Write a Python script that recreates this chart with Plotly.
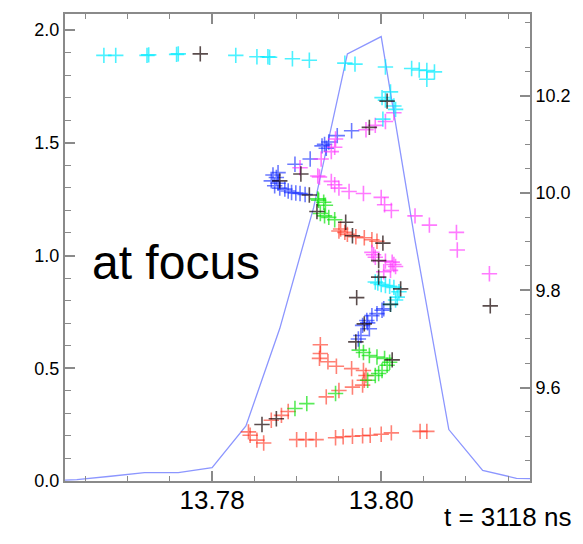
import plotly.graph_objects as go

# Pulse profile (left axis, intensity)
profile_t = [13.760, 13.764, 13.768, 13.772, 13.776, 13.780, 13.784, 13.788,
             13.792, 13.796, 13.800, 13.804, 13.808, 13.812, 13.816, 13.820]
profile_i = [0.000, 0.006, 0.021, 0.037, 0.037, 0.059, 0.244, 0.676,
             1.211, 1.894, 1.971, 1.066, 0.228, 0.047, 0.012, 0.008]

# Scatter points (right axis), grouped by colour
cyan_x = [13.7672, 13.7686, 13.7723, 13.7725, 13.7758, 13.7760, 13.7828, 13.7853,
          13.7866, 13.7868, 13.7895, 13.7915, 13.7957, 13.7969, 13.8005, 13.8036,
          13.8045, 13.8054, 13.8063, 13.8054, 13.8011, 13.8001, 13.8005, 13.8015,
          13.8017, 13.8002,
          13.7993, 13.7996, 13.8000, 13.8005, 13.8010, 13.8015, 13.8021, 13.8019,
          13.8017, 13.8011]
cyan_y = [10.283, 10.283, 10.283, 10.284, 10.285, 10.286, 10.283, 10.280,
          10.280, 10.279, 10.276, 10.273, 10.267, 10.265, 10.259, 10.256,
          10.253, 10.252, 10.249, 10.234, 10.208, 10.196, 10.191, 10.179,
          10.172, 10.152,
          9.817, 9.815, 9.812, 9.810, 9.808, 9.806, 9.797, 9.786,
          9.780, 9.771]

magenta_x = [13.8015, 13.8005, 13.7993, 13.7982, 13.7946, 13.7945, 13.7941, 13.7929,
             13.7904, 13.7925,
             13.7927, 13.7941, 13.7945, 13.7950, 13.7962, 13.7979, 13.8000, 13.8004,
             13.8012, 13.8040, 13.8057, 13.8089, 13.8090, 13.8128,
             13.7989, 13.7991, 13.7993, 13.8005, 13.8013, 13.8015, 13.8017, 13.8011,
             13.8003]
magenta_y = [10.165, 10.147, 10.139, 10.130, 10.111, 10.094, 10.085, 10.070,
             10.052, 10.035,
             10.033, 10.024, 10.017, 10.010, 10.003, 9.999, 9.991, 9.976,
             9.964, 9.953, 9.934, 9.919, 9.883, 9.834,
             9.878, 9.873, 9.868, 9.860, 9.858, 9.853, 9.849, 9.841,
             9.838]

blue_x = [13.7965, 13.7948, 13.7938, 13.7933, 13.7930, 13.7935, 13.7916, 13.7898,
          13.7878, 13.7872, 13.7876, 13.7870, 13.7878, 13.7874, 13.7880, 13.7886,
          13.7890, 13.7894, 13.7899, 13.7904, 13.7910,
          13.8003, 13.8001, 13.7995, 13.7989, 13.7984, 13.7983, 13.7978, 13.7986,
          13.7976, 13.7973]
blue_y = [10.128, 10.118, 10.105, 10.100, 10.097, 10.092, 10.070, 10.059,
          10.042, 10.037, 10.032, 10.025, 10.020, 10.015, 10.010, 10.008,
          10.004, 10.001, 10.000, 9.999, 9.997,
          9.762, 9.759, 9.752, 9.748, 9.733, 9.738, 9.728, 9.721,
          9.707, 9.700]

green_x = [13.7925, 13.7926, 13.7932, 13.7934, 13.7928, 13.7933, 13.7938, 13.7945,
           13.7974, 13.7979, 13.7986, 13.7995, 13.8004, 13.8010, 13.8007, 13.8001,
           13.7997, 13.7993, 13.7984,
           13.7946, 13.7912, 13.7898]
green_y = [9.988, 9.985, 9.981, 9.975, 9.958, 9.953, 9.950, 9.945,
           9.677, 9.672, 9.666, 9.663, 9.660, 9.652, 9.646, 9.635,
           9.629, 9.625, 9.615,
           9.588, 9.567, 9.557]

red_x = [13.7950, 13.7952, 13.7957, 13.7960, 13.7970, 13.7980, 13.7989, 13.7995,
         13.7980, 13.7978, 13.7966, 13.7950, 13.7935, 13.7890, 13.7882, 13.7870,
         13.7843, 13.7845, 13.7853, 13.7861,
         13.7928, 13.7928, 13.7927, 13.7937, 13.7947, 13.7965, 13.7979, 13.7982,
         13.7900, 13.7911, 13.7923, 13.7946, 13.7955, 13.7966, 13.7978, 13.7987,
         13.8000, 13.8012, 13.8046, 13.8054]
red_y = [9.922, 9.926, 9.919, 9.915, 9.910, 9.908, 9.904, 9.901,
         9.615, 9.605, 9.601, 9.594, 9.581, 9.551, 9.543, 9.533,
         9.509, 9.502, 9.492, 9.486,
         9.688, 9.670, 9.660, 9.653, 9.644, 9.639, 9.635, 9.625,
         9.493, 9.493, 9.493, 9.497, 9.499, 9.500, 9.501, 9.502,
         9.504, 9.507, 9.510, 9.510]

dark_x = [13.7786, 13.8007, 13.7986, 13.7905, 13.7880, 13.7915, 13.7924, 13.7958,
          13.7966, 13.8002, 13.7997, 13.7997, 13.8023, 13.8011, 13.7980, 13.7970,
          13.8013, 13.7876, 13.7859, 13.7971, 13.8129]
dark_y = [10.286, 10.189, 10.135, 10.039, 10.025, 9.996, 9.962, 9.940,
          9.912, 9.897, 9.861, 9.827, 9.803, 9.771, 9.731, 9.694,
          9.657, 9.536, 9.524, 9.785, 9.768]

x_range = [13.7626, 13.8176]
left_range = [0.0, 2.071]
right_range = [9.408, 10.368]

FONT = "Liberation Sans, Arial, Helvetica, sans-serif"
AXIS_GREY = "#8a8a8a"

fig = go.Figure()

fig.add_trace(go.Scatter(
    x=profile_t, y=profile_i, mode="lines",
    line=dict(color="rgb(140,150,255)", width=1.3),
    yaxis="y", showlegend=False, hoverinfo="skip"))


def crosses(xs, ys, colour):
    return go.Scatter(
        x=xs, y=ys, mode="markers", yaxis="y2", showlegend=False,
        marker=dict(symbol="cross-thin", size=11,
                    line=dict(color=colour, width=1.6)))


fig.add_trace(crosses(red_x, red_y, "rgba(255,45,25,0.6)"))
fig.add_trace(crosses(green_x, green_y, "rgba(0,225,0,0.65)"))
fig.add_trace(crosses(blue_x, blue_y, "rgba(10,35,255,0.6)"))
fig.add_trace(crosses(magenta_x, magenta_y, "rgba(255,50,255,0.65)"))
fig.add_trace(crosses(cyan_x, cyan_y, "rgba(0,235,255,0.7)"))
fig.add_trace(crosses(dark_x, dark_y, "rgba(20,0,0,0.7)"))

fig.update_layout(
    width=583, height=544,
    margin=dict(l=65, r=49, t=13, b=63),
    paper_bgcolor="white", plot_bgcolor="white",
    font=dict(family=FONT, color="black"),
    xaxis=dict(
        range=x_range, tick0=13.78, dtick=0.02, tickformat=".2f",
        ticks="inside", ticklen=10, tickwidth=1.5, tickcolor=AXIS_GREY,
        showline=True, linecolor=AXIS_GREY, linewidth=2, mirror="ticks",
        showgrid=False, zeroline=False, ticklabelstandoff=-5,
        tickfont=dict(size=26, family=FONT),
        minor=dict(ticks="inside", ticklen=5, tickwidth=1.2,
                   tickcolor=AXIS_GREY, tick0=13.78, dtick=0.005, showgrid=False),
    ),
    yaxis=dict(
        range=left_range, tick0=0, dtick=0.5, tickformat=".1f",
        ticks="inside", ticklen=10, tickwidth=1.5, tickcolor=AXIS_GREY,
        showline=True, linecolor=AXIS_GREY, linewidth=2,
        showgrid=False, zeroline=False,
        tickfont=dict(size=18, family=FONT),
        minor=dict(ticks="inside", ticklen=6, tickwidth=1.2,
                   tickcolor=AXIS_GREY, tick0=0, dtick=0.1, showgrid=False),
    ),
    yaxis2=dict(
        range=right_range, overlaying="y", side="right",
        tick0=9.6, dtick=0.2, tickformat=".1f",
        ticks="inside", ticklen=10, tickwidth=1.5, tickcolor=AXIS_GREY,
        showline=True, linecolor=AXIS_GREY, linewidth=2,
        showgrid=False, zeroline=False,
        tickfont=dict(size=18, family=FONT),
        minor=dict(ticks="inside", ticklen=5, tickwidth=1.2,
                   tickcolor=AXIS_GREY, tick0=9.6, dtick=0.05, showgrid=False),
    ),
    annotations=[
        dict(text="at focus", xref="paper", yref="paper", x=0.053, y=0.468,
             xanchor="left", yanchor="middle", showarrow=False,
             font=dict(size=48, family=FONT, color="black")),
        dict(text="t = 3118 ns", xref="paper", yref="paper", x=1.0917, y=-0.078,
             xanchor="right", yanchor="middle", showarrow=False,
             font=dict(size=26, family=FONT, color="black")),
    ],
)

fig.write_html("out.html")
